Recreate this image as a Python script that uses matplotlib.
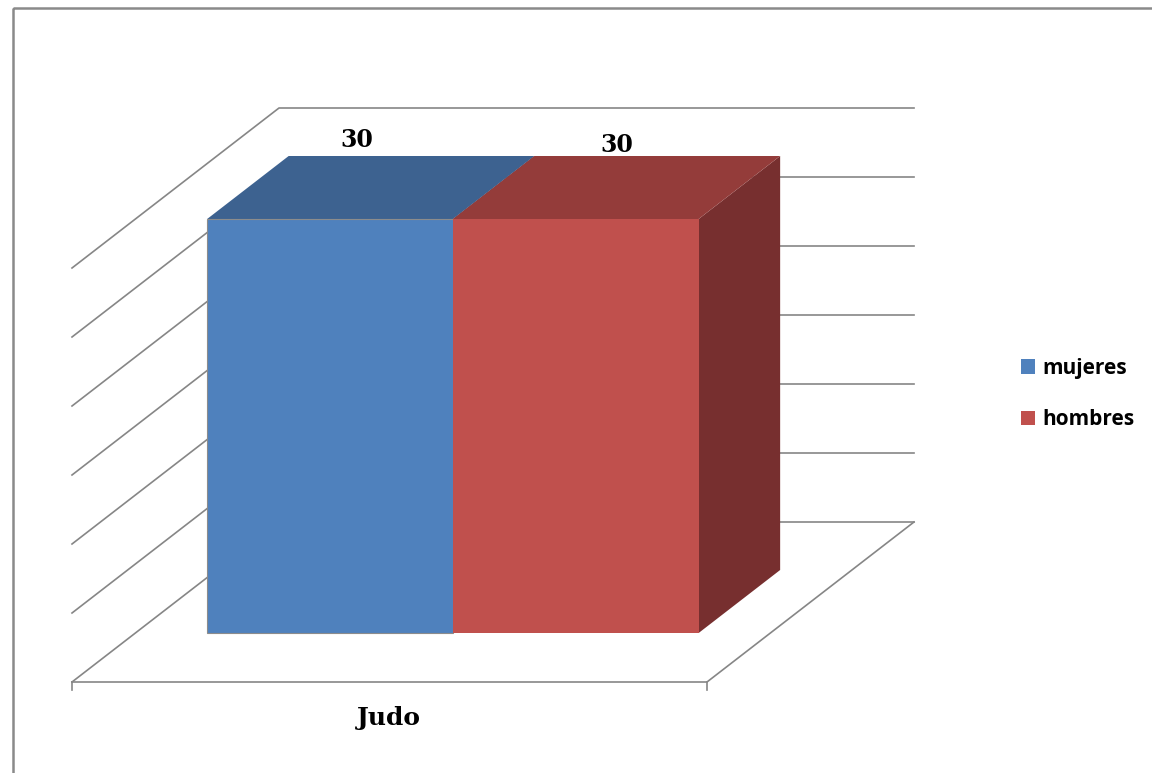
import matplotlib
matplotlib.use("Agg")
import matplotlib.pyplot as plt
from matplotlib.patches import Polygon, Rectangle, Patch

# data
category = "Judo"
series = ["mujeres", "hombres"]
values = [30, 30]
y_max = 30
y_step = 5

front_col = ["#4F81BD", "#C0504D"]
top_col = ["#3D6290", "#943C3A"]
side_col = ["#2F4B70", "#772F2F"]

# oblique projection of the chart box (pixel space of the figure)
X0, Y0 = 72, 682        # front-left floor corner
W = 635                 # floor width
DX, DY = 207, -160      # depth vector
ZS = 69.0 / y_step      # pixels per unit

def proj(u, z, d):
    return (X0 + u * W + d * DX, Y0 - z * ZS + d * DY)

fig = plt.figure(figsize=(11.52, 7.73), dpi=100)
ax = fig.add_axes([0, 0, 1, 1])
ax.set_xlim(0, 1152)
ax.set_ylim(773, 0)
ax.axis("off")

grid = "#868686"
lw = 1.2

# outer frame
ax.add_patch(Rectangle((13, 8), 1160, 790, fill=False, ec="#8a8a8a", lw=1.8, zorder=0))

# walls
z = 0
while z <= y_max:
    a, b, c = proj(0, z, 0), proj(0, z, 1), proj(1, z, 1)
    ax.plot([a[0], b[0], c[0]], [a[1], b[1], c[1]], color=grid, lw=lw, zorder=1)
    z += y_step

# floor
pts = [proj(0, 0, 0), proj(1, 0, 0), proj(1, 0, 1)]
ax.plot([p[0] for p in pts], [p[1] for p in pts], color=grid, lw=lw, zorder=1)
for u in (0, 1):
    p = proj(u, 0, 0)
    ax.plot([p[0], p[0]], [p[1], p[1] + 8], color=grid, lw=lw, zorder=1)

# bars
edges = [0.113, 0.5, 0.887]
d0, d1 = 0.306, 0.70
for i, v in enumerate(values):
    ul, ur = edges[i], edges[i + 1]
    front = [proj(ul, 0, d0), proj(ur, 0, d0), proj(ur, v, d0), proj(ul, v, d0)]
    top = [proj(ul, v, d0), proj(ur, v, d0), proj(ur, v, d1), proj(ul, v, d1)]
    side = [proj(ur, 0, d0), proj(ur, 0, d1), proj(ur, v, d1), proj(ur, v, d0)]
    ec = "#8c8c8c" if i == 0 else "none"
    ax.add_patch(Polygon(side, closed=True, fc=side_col[i], ec="none", zorder=2 + i))
    ax.add_patch(Polygon(top, closed=True, fc=top_col[i], ec="none", zorder=2 + i))
    ax.add_patch(Polygon(front, closed=True, fc=front_col[i], ec=ec, lw=0.8, zorder=2 + i))
    lx, ly = proj((ul + ur) / 2, v, (d0 + d1) / 2)
    ax.text(lx - (14 if i == 0 else 0), ly - 48 + 5 * i, str(v), ha="center", va="center",
            fontsize=17, fontweight="bold", family="DejaVu Serif", zorder=5)

# category label
cx, cy = proj(0.5, 0, 0)
ax.text(cx - 1, cy + 36, category, ha="center", va="center", fontsize=18,
        fontweight="bold", family="DejaVu Serif")

# legend
handles = [Patch(fc=front_col[i], ec="none", label=s) for i, s in enumerate(series)]
leg = ax.legend(handles=handles, loc="center left", bbox_to_anchor=(1002 / 1152, 1 - 394 / 773),
                frameon=False, handlelength=0.7, handleheight=0.7, handletextpad=0.35,
                labelspacing=1.45, prop={"family": "Open Sans", "weight": "bold", "size": 15})

fig.savefig("out.png", dpi=100)
